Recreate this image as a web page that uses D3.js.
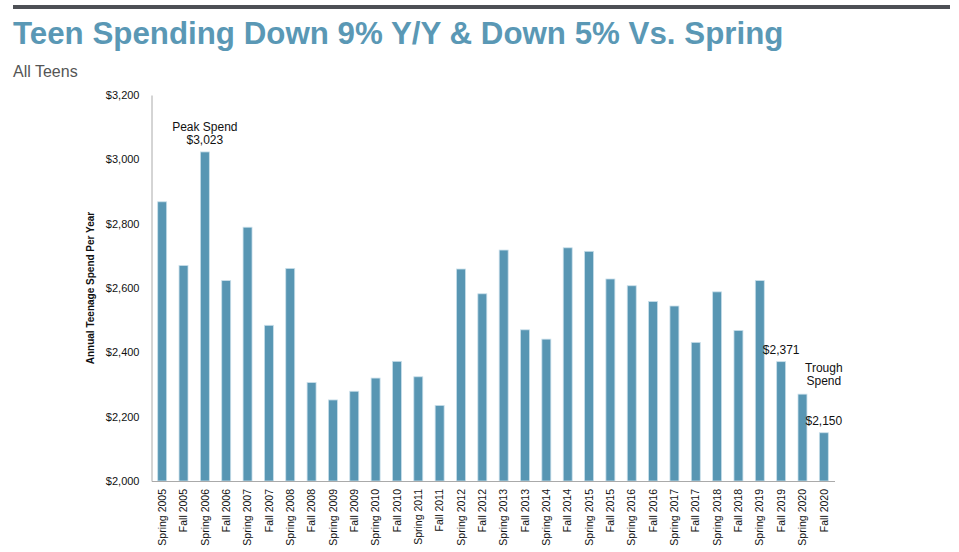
<!DOCTYPE html>
<html><head><meta charset="utf-8">
<script src="https://cdn.jsdelivr.net/npm/d3@7"></script>
<style>body{margin:0;background:#fff;}svg{display:block;font-family:"Liberation Sans",Arial,sans-serif;}</style>
</head><body><svg id="c" width="959" height="552"></svg>
<script>
const categories = ["Spring 2005","Fall 2005","Spring 2006","Fall 2006","Spring 2007","Fall 2007","Spring 2008","Fall 2008","Spring 2009","Fall 2009","Spring 2010","Fall 2010","Spring 2011","Fall 2011","Spring 2012","Fall 2012","Spring 2013","Fall 2013","Spring 2014","Fall 2014","Spring 2015","Fall 2015","Spring 2016","Fall 2016","Spring 2017","Fall 2017","Spring 2018","Fall 2018","Spring 2019","Fall 2019","Spring 2020","Fall 2020"];
const spend = [2868,2670,3023,2623,2789,2484,2661,2306,2252,2279,2320,2372,2324,2235,2659,2582,2718,2470,2441,2725,2714,2628,2607,2558,2544,2431,2588,2468,2623,2371,2270,2150];
const yTicks = [2000,2200,2400,2600,2800,3000,3200];
const annotations = [
  {cat:"Spring 2006", lines:["Peak Spend","$3,023"]},
  {cat:"Fall 2019", lines:["$2,371"]},
  {cat:"Fall 2020", lines:["Trough","Spend"], dy:-40},
  {cat:"Fall 2020", lines:["$2,150"]}
];

(function(){
const svg = d3.select("#c");
const pl = 151.5, pr = 834.5, pt = 95, pb = 481;
const x = d3.scaleBand().domain(categories).range([pl, pr]).paddingInner(0.58).paddingOuter(0.29);
const y = d3.scaleLinear().domain([2000, 3200]).range([pb, pt]);

svg.append("rect").attr("x", 13).attr("y", 5).attr("width", 937).attr("height", 4).attr("fill", "#4d5055");
svg.append("text").attr("x", 13).attr("y", 44).attr("fill", "#5a98b5").attr("font-weight", "bold")
  .attr("font-size", 31.3).text("Teen Spending Down 9% Y/Y & Down 5% Vs. Spring");
svg.append("text").attr("x", 13).attr("y", 77).attr("fill", "#555").attr("font-size", 16).text("All Teens");

const yAxis = svg.append("g").attr("transform", `translate(${pl},0)`)
  .call(d3.axisLeft(y).tickValues(yTicks).tickSize(0).tickPadding(12).tickFormat(d => "$" + d3.format(",")(d)));
yAxis.select(".domain").attr("stroke", "#aaa");
yAxis.selectAll("text").attr("font-size", 11).attr("fill", "#111").attr("font-family", "Liberation Sans, Arial, sans-serif");

svg.append("text").attr("transform", `translate(94,${(pt + pb) / 2}) rotate(-90)`)
  .attr("text-anchor", "middle").attr("font-size", 10).attr("font-weight", "bold").attr("fill", "#111")
  .text("Annual Teenage Spend Per Year");

svg.append("g").selectAll("rect").data(categories).join("rect")
  .attr("x", d => x(d)).attr("width", x.bandwidth())
  .attr("y", (d, i) => y(spend[i])).attr("height", (d, i) => y(2000) - y(spend[i]))
  .attr("fill", "#5896b3").attr("stroke", "#c9dfea").attr("stroke-width", 0.8);

const xAxis = svg.append("g").attr("transform", `translate(0,${pb})`)
  .call(d3.axisBottom(x).tickSize(0).tickPadding(8));
xAxis.select(".domain").attr("stroke", "#aaa");
xAxis.selectAll("text").attr("font-size", 10.5).attr("fill", "#111").attr("font-family", "Liberation Sans, Arial, sans-serif")
  .attr("transform", "rotate(-90)").attr("text-anchor", "end").attr("x", -8).attr("y", 0).attr("dy", "0.35em");

annotations.forEach(a => {
  const i = categories.indexOf(a.cat);
  const cx = x(a.cat) + x.bandwidth() / 2;
  const base = y(spend[i]) - 8 + (a.dy || 0);
  const t = svg.append("text").attr("text-anchor", "middle").attr("font-size", 12).attr("fill", "#111");
  a.lines.forEach((l, k) => {
    t.append("tspan").attr("x", cx).attr("y", base - (a.lines.length - 1 - k) * 12.5).text(l);
  });
});
})();
</script>
</body></html>
